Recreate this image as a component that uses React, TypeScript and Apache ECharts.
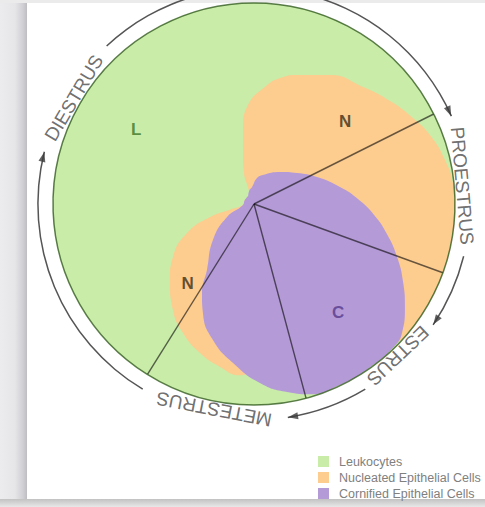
import React, { useEffect, useRef } from 'react';
import * as echarts from 'echarts';

// ---------- data ----------
const CELL_TYPES = ['Leukocytes', 'Nucleated Epithelial Cells', 'Cornified Epithelial Cells'];
const CELL_COLORS = ['#c9eca8', '#fdcc8f', '#b59ad8'];

// phase wedges (degrees of the cycle), clockwise from PHASE_START
const PHASES = ['PROESTRUS', 'ESTRUS', 'METESTRUS', 'DIESTRUS'];
const PHASE_SPAN = [46.6, 55, 47, 211.4];
const PHASE_START = 26.6;

// Nucleated epithelial cells: outline (angle in degrees, share of radius)
const NUCLEATED_ANGLE = [112, 109.5, 108, 101.5, 98, 93.5, 84.2, 78.3, 71.6, 59.5, 47, 37.1, 28.8, 21.4, 13, 6, 0, -10, -20, -30, -40, -47, -58, -70, -80, -86, -91, -94.6, -101.8, -109.9, -118.8, -127.4, -137.9, -146.8, -156.6, -163.5, -167, -173, -200, -248];
const NUCLEATED_R = [0.05, 0.1, 0.16, 0.274, 0.387, 0.493, 0.59, 0.64, 0.677, 0.745, 0.796, 0.849, 0.897, 0.94, 0.975, 0.995, 1, 1, 1, 1, 1, 0.98, 0.95, 0.9, 0.87, 0.85, 0.845, 0.855, 0.828, 0.789, 0.733, 0.664, 0.564, 0.482, 0.363, 0.228, 0.12, 0.06, 0.05, 0.05];

// Cornified epithelial cells: outline
const CORNIFIED_ANGLE = [125, 110, 96.7, 83.4, 72.8, 50.9, 35.8, 23.2, 11.2, 2.75, -5.2, -12.7, -20.3, -27.6, -34.3, -41.1, -46, -55, -65, -73, -80, -88.1, -97.5, -106.8, -115.1, -120.3, -125.5, -138.7, -154.3, -174.8, -200, -235];
const CORNIFIED_R = [0.05, 0.07, 0.085, 0.13, 0.151, 0.205, 0.264, 0.341, 0.436, 0.518, 0.6, 0.678, 0.759, 0.837, 0.909, 0.977, 0.995, 0.997, 0.997, 0.99, 0.95, 0.891, 0.798, 0.707, 0.599, 0.513, 0.403, 0.272, 0.149, 0.055, 0.05, 0.05];

// region letters
const REGION_LETTERS = ['L', 'N', 'N', 'C'];
const REGION_ANGLE = [147.8, 42, -130, -52.3];
const REGION_R = [0.693, 0.61, 0.514, 0.685];
const REGION_COLORS = ['#3d7424', '#3b2d17', '#3b2d17', '#57398a'];

// outer cycle ring: label gap, then arrow arc, clockwise from RING_START
const RING_LABELS = ['DIESTRUS', 'PROESTRUS', 'ESTRUS', 'METESTRUS'];
const RING_GAP = [33, 38, 25, 40];
const RING_ARC = [109, 20, 22, 73];
const RING_START = 166;

// ---------- layout ----------
const CX = 254;
const CY = 204;
const R = 201;
const RING_R = 1.075;
const TEXT_R = 1.04;
const FONT = "'Liberation Sans', Arial, Helvetica, sans-serif";

export default function App() {
  const ref = useRef<HTMLDivElement>(null);

  useEffect(() => {
    document.body.style.margin = '0';
    const chart = echarts.init(ref.current!, null, { renderer: 'svg' });

    // radial boundaries
    const bounds: number[] = [];
    let a = PHASE_START;
    PHASE_SPAN.forEach((s) => {
      bounds.push(a);
      a -= s;
    });

    // ring pieces
    const ringData: any[] = [];
    const arrows: any[] = [];
    const labels: any[] = [];
    let ang = RING_START;
    RING_LABELS.forEach((name, i) => {
      ringData.push({ value: RING_GAP[i], name: 'gap' + i, itemStyle: { color: 'rgba(0,0,0,0)' } });
      const mid = ang - RING_GAP[i] / 2;
      labels.push({ name, value: [TEXT_R, mid], label: { rotate: mid - 90 } });
      ang -= RING_GAP[i];
      ringData.push({ value: RING_ARC[i], name: 'arc' + i, itemStyle: { color: '#555555' } });
      ang -= RING_ARC[i];
      arrows.push({ value: [RING_R, ang + 1.4], symbolRotate: ang - 180 });
    });

    const zip = (rs: number[], as: number[]) => rs.map((r, i) => [r, as[i]]);

    const option: any = {
      animation: false,
      backgroundColor: '#ffffff',
      polar: { center: [CX, CY], radius: R },
      angleAxis: { type: 'value', min: 0, max: 360, startAngle: 0, clockwise: false, show: false },
      radiusAxis: { type: 'value', min: 0, max: 1, show: false },
      legend: {
        data: CELL_TYPES,
        orient: 'vertical',
        left: 313,
        top: 450,
        itemWidth: 11,
        itemHeight: 11,
        itemGap: 3,
        icon: 'rect',
        selectedMode: false,
        itemStyle: { borderWidth: 0 },
        textStyle: { fontSize: 12.5, color: '#808080', fontFamily: FONT, padding: [0, 0, 0, 5] },
      },
      graphic: [
        {
          type: 'rect',
          shape: { x: 0, y: 0, width: 27, height: 507 },
          style: {
            fill: new echarts.graphic.LinearGradient(0, 0, 1, 0, [
              { offset: 0, color: '#ececee' },
              { offset: 0.55, color: '#e6e6e9' },
              { offset: 0.85, color: '#d0d0d4' },
              { offset: 1, color: '#bdbdc2' },
            ]),
          },
          silent: true,
        },
        { type: 'rect', shape: { x: 0, y: 0, width: 485, height: 3 }, style: { fill: '#ebebeb' }, silent: true },
        {
          type: 'rect',
          shape: { x: 0, y: 499, width: 485, height: 8 },
          style: {
            fill: new echarts.graphic.LinearGradient(0, 0, 0, 1, [
              { offset: 0, color: '#c2c2c2' },
              { offset: 1, color: '#e8e8e8' },
            ]),
          },
          silent: true,
        },
      ],
      series: [
        {
          type: 'pie',
          center: [CX, CY],
          radius: R,
          silent: true,
          label: { show: false },
          labelLine: { show: false },
          itemStyle: { borderWidth: 0 },
          data: [{ name: CELL_TYPES[0], value: 1, itemStyle: { color: CELL_COLORS[0] } }],
          z: 1,
        },
        {
          type: 'line',
          name: CELL_TYPES[1],
          coordinateSystem: 'polar',
          data: zip(NUCLEATED_R, NUCLEATED_ANGLE),
          smooth: 0.5,
          symbol: 'none',
          silent: true,
          lineStyle: { width: 0 },
          itemStyle: { color: CELL_COLORS[1] },
          areaStyle: { color: CELL_COLORS[1], opacity: 1 },
          z: 2,
        },
        {
          type: 'line',
          name: CELL_TYPES[2],
          coordinateSystem: 'polar',
          data: zip(CORNIFIED_R, CORNIFIED_ANGLE),
          smooth: 0.5,
          symbol: 'none',
          silent: true,
          lineStyle: { width: 0 },
          itemStyle: { color: CELL_COLORS[2] },
          areaStyle: { color: CELL_COLORS[2], opacity: 1 },
          z: 2,
        },
        ...bounds.map((b, i) => ({
          type: 'line',
          name: 'bound' + i,
          coordinateSystem: 'polar',
          data: [[0, b], [1, b]],
          symbol: 'none',
          silent: true,
          lineStyle: { width: 1.4, color: 'rgba(10,10,10,0.62)' },
          z: 3,
        })),
        {
          type: 'pie',
          center: [CX, CY],
          radius: R,
          silent: true,
          label: { show: false },
          labelLine: { show: false },
          data: [{ name: 'outline', value: 1 }],
          itemStyle: { color: 'rgba(0,0,0,0)', borderColor: 'rgba(30,75,10,0.72)', borderWidth: 1.5 },
          z: 4,
        },
        {
          type: 'pie',
          center: [CX, CY],
          radius: [R * RING_R - 0.75, R * RING_R + 0.75],
          startAngle: RING_START,
          clockwise: true,
          silent: true,
          label: { show: false },
          labelLine: { show: false },
          itemStyle: { borderWidth: 0 },
          data: ringData,
          z: 4,
        },
        {
          type: 'scatter',
          coordinateSystem: 'polar',
          data: arrows,
          symbol: 'triangle',
          symbolSize: [7, 10],
          itemStyle: { color: '#3a3a3a' },
          silent: true,
          clip: false,
          z: 5,
        },
        {
          type: 'scatter',
          coordinateSystem: 'polar',
          data: labels,
          symbolSize: 0,
          silent: true,
          clip: false,
          label: {
            show: true,
            position: 'inside',
            formatter: '{b}',
            fontSize: 19,
            color: '#4a4a4a',
            fontFamily: FONT,
          },
          z: 5,
        },
        {
          type: 'scatter',
          coordinateSystem: 'polar',
          data: REGION_LETTERS.map((l, i) => ({
            name: l,
            value: [REGION_R[i], REGION_ANGLE[i]],
            label: { color: REGION_COLORS[i] },
          })),
          symbolSize: 0,
          silent: true,
          label: {
            show: true,
            position: 'inside',
            formatter: '{b}',
            fontSize: 17,
            fontWeight: 'bold',
            fontFamily: FONT,
          },
          z: 5,
        },
      ],
    };

    chart.setOption(option);
    return () => chart.dispose();
  }, []);

  return <div ref={ref} style={{ width: 485, height: 507 }} />;
}
